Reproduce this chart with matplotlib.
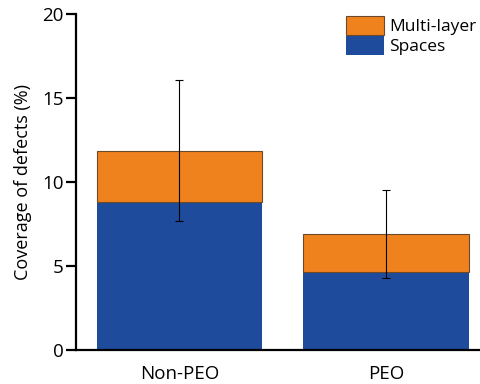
import matplotlib
matplotlib.use("Agg")
import matplotlib.pyplot as plt
import numpy as np

plt.rcParams['font.family'] = ['Open Sans', 'DejaVu Sans']

# data
groups = ["Non-PEO", "PEO"]
spaces = [8.8, 4.65]
multi = [3.05, 2.25]
err = [4.2, 2.6]

blue = '#1f4b9c'
orange = '#f0821e'

fig = plt.figure(figsize=(4.81, 3.84), dpi=100)
ax = fig.add_axes([76/481, 34/384, 405/481, 336/384])

x = np.arange(len(groups))
totals = np.array(spaces) + np.array(multi)
ax.bar(x, spaces, width=0.8, color=blue, label='Spaces', zorder=2)
ax.bar(x, multi, width=0.8, bottom=spaces, color=orange, edgecolor='#6b4a2a',
       linewidth=0.8, label='Multi-layer', zorder=2)
ax.errorbar(x, totals, yerr=err, fmt='none', ecolor='black', elinewidth=0.8,
            capsize=3, capthick=0.8, zorder=3)

ax.set_xlim(-0.5, 1.46)
ax.set_ylim(0, 20)
ax.set_yticks([0, 5, 10, 15, 20])
ax.set_xticks(x)
ax.set_xticklabels(groups)
ax.spines['top'].set_visible(False)
ax.spines['right'].set_visible(False)
ax.spines['left'].set_linewidth(1.6)
ax.spines['bottom'].set_linewidth(1.6)
ax.tick_params(axis='y', direction='out', length=7, width=1.6, labelsize=13.5, pad=2)
ax.tick_params(axis='x', length=0, labelsize=13.5, pad=11)
ax.set_ylabel('Coverage of defects (%)', fontsize=13, labelpad=7)

handles, labels = ax.get_legend_handles_labels()
ax.legend(handles[::-1], labels[::-1], loc='upper right', bbox_to_anchor=(1.015, 1.025),
          frameon=False, fontsize=12.5, handlelength=2.2, handleheight=1.3,
          handletextpad=0.3, labelspacing=0.05, borderaxespad=0.2)

fig.savefig('out.png', dpi=100)
